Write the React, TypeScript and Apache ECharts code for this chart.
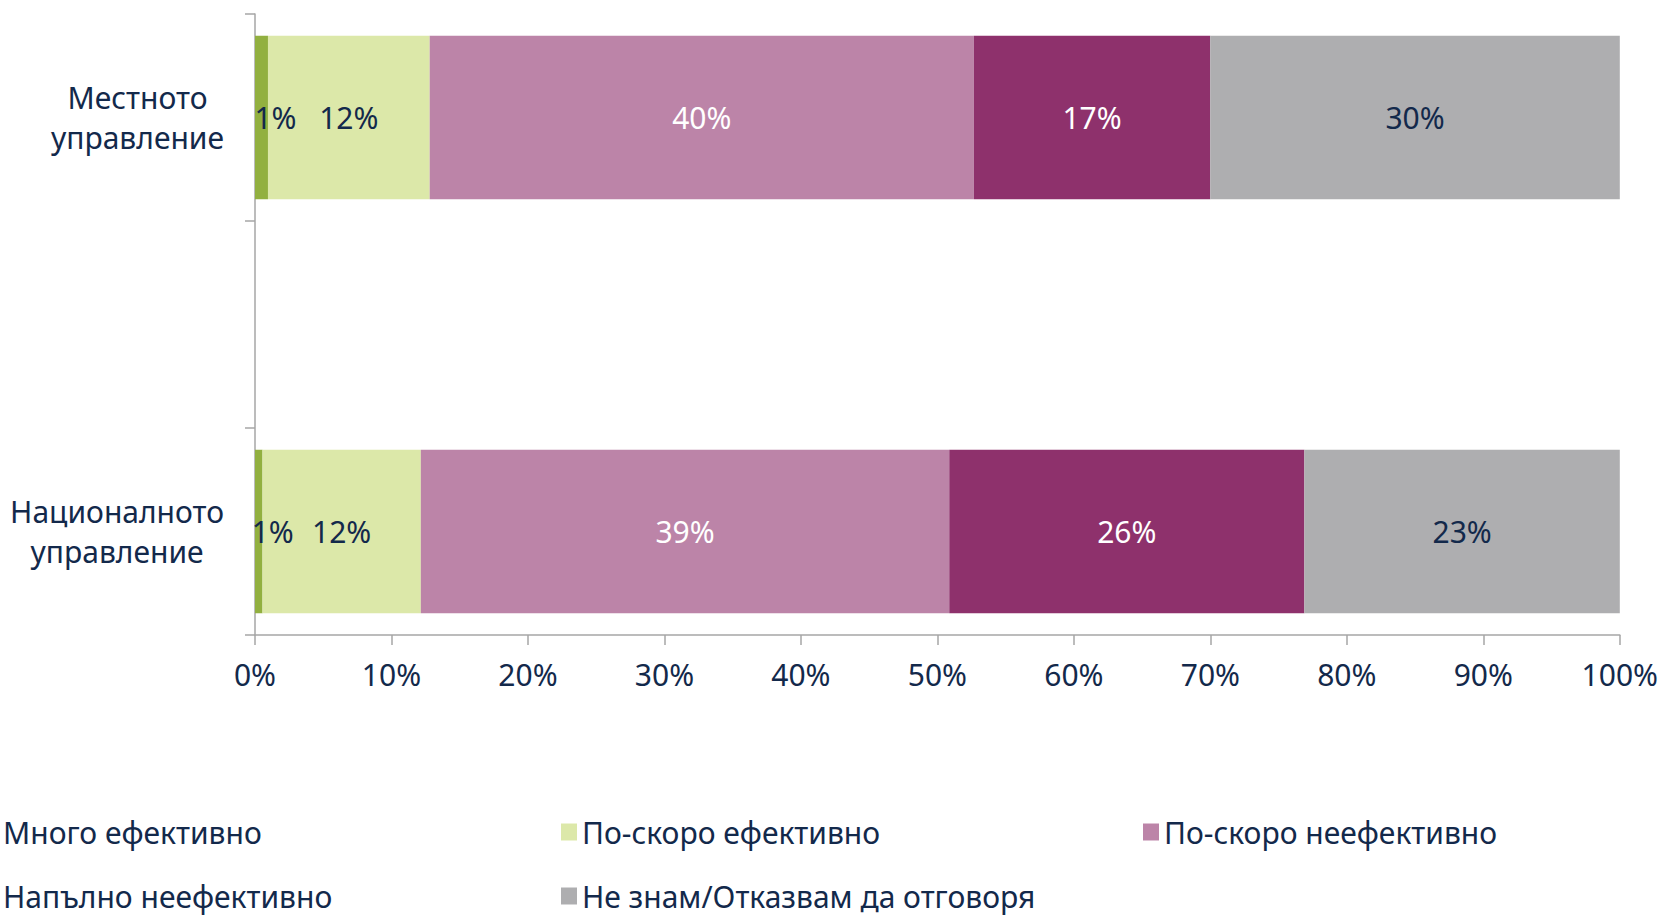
import React, { useEffect, useRef } from "react";
import * as echarts from "echarts";

const categories = ["Националното управление", "", "Местното управление"];
const seriesNames = [
  "Много ефективно",
  "По-скоро ефективно",
  "По-скоро неефективно",
  "Напълно неефективно",
  "Не знам/Отказвам да отговоря",
];
const veryEffective = [0.55, null, 0.95];
const ratherEffective = [11.6, null, 11.85];
const ratherIneffective = [38.72, null, 39.87];
const totallyIneffective = [26.02, null, 17.32];
const dontKnow = [23.11, null, 30.01];

const NAVY = "#13294B";
const FONT = "'Noto Sans', sans-serif";
const FS = 30;
const colors = ["#92B040", "#DCE8A9", "#BC84A8", "#8E316C", "#AEAEB0"];
const labelColors = [NAVY, NAVY, "#FFFFFF", "#FFFFFF", NAVY];
const labelOffsets = [[14, 0], [0, 0], [0, 0], [0, 0], [0, 0]];

export default function App() {
  const ref = useRef<HTMLDivElement>(null);
  useEffect(() => {
    if (!ref.current) return;
    const chart = echarts.init(ref.current, null, { renderer: "svg" });
    const values = [veryEffective, ratherEffective, ratherIneffective, totallyIneffective, dontKnow];
    const legendPos = [
      { left: -18, top: 817 },
      { left: 561, top: 817 },
      { left: 1143, top: 817 },
      { left: -18, top: 881 },
      { left: 561, top: 881 },
    ];
    chart.setOption({
      animation: false,
      textStyle: { fontFamily: FONT },
      grid: { left: 255, right: 36, top: 14, bottom: 280, containLabel: false },
      legend: seriesNames.map((n, i) => ({
        data: [n],
        left: legendPos[i].left,
        top: legendPos[i].top,
        padding: 0,
        icon: "rect",
        itemWidth: 16,
        itemHeight: 17,
        selectedMode: false,
        textStyle: { fontSize: FS, color: NAVY, fontFamily: FONT },
      })),
      xAxis: {
        type: "value",
        min: 0,
        max: 100,
        interval: 10,
        axisLine: { show: true, lineStyle: { color: "#A6A6A6", width: 1.5 } },
        axisTick: { show: true, length: 10, lineStyle: { color: "#A6A6A6", width: 1.5 } },
        splitLine: { show: false },
        axisLabel: {
          formatter: "{value}%",
          fontSize: FS,
          color: NAVY,
          margin: 24,
          fontFamily: FONT,
        },
      },
      yAxis: {
        type: "category",
        data: categories,
        axisLine: { show: true, lineStyle: { color: "#A6A6A6", width: 1.5 } },
        axisTick: { show: true, length: 10, lineStyle: { color: "#A6A6A6", width: 1.5 } },
        axisLabel: {
          margin: 31,
          align: "right",
          formatter: (v: string) => (v ? `{c|${v.replace(" ", "\n")}}` : ""),
          rich: {
            c: {
              align: "center",
              fontSize: FS,
              lineHeight: 40,
              color: NAVY,
              fontFamily: FONT,
            },
          },
        },
      },
      series: seriesNames.map((n, i) => ({
        name: n,
        type: "bar",
        stack: "total",
        barWidth: "79%",
        data: values[i],
        itemStyle: { color: colors[i] },
        label: {
          show: true,
          position: "inside",
          offset: labelOffsets[i],
          formatter: (p: any) => `${Math.round(p.value)}%`,
          color: labelColors[i],
          fontSize: FS,
          fontFamily: FONT,
        },
      })),
    });
    return () => chart.dispose();
  }, []);
  return (
    <div
      ref={ref}
      style={{ position: "absolute", left: 0, top: 0, width: 1661, height: 915, background: "#fff" }}
    />
  );
}
